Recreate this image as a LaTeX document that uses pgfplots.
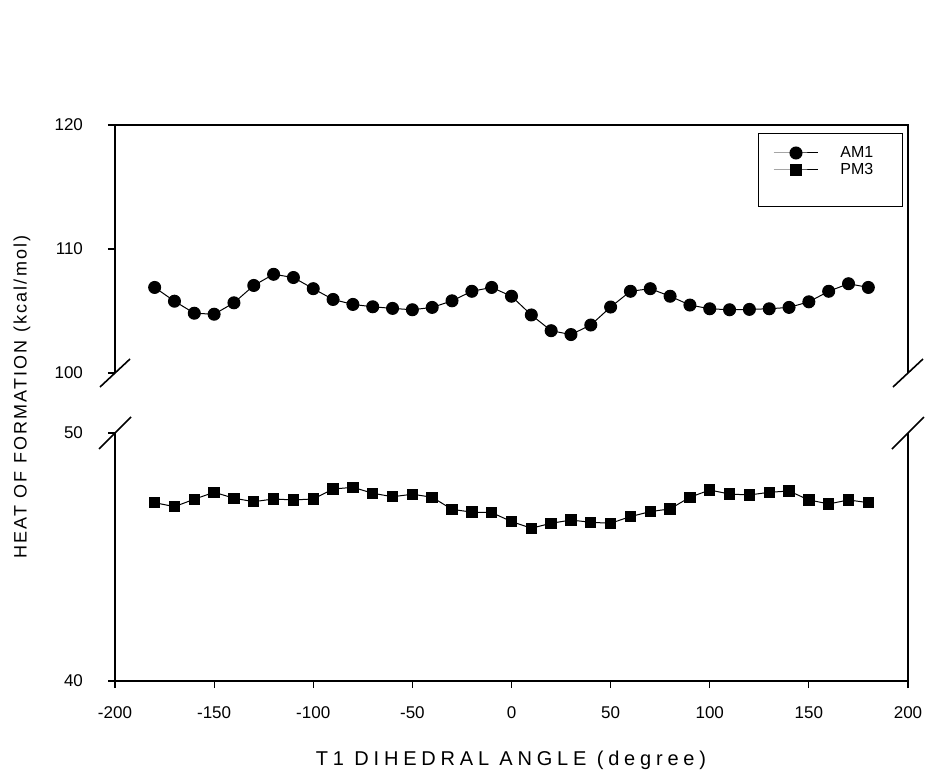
\documentclass[border=0pt]{standalone}
\usepackage{fontspec}
\setmainfont{Liberation Sans}
\newfontfamily\ylabfont[LetterSpace=12]{Liberation Sans}
\newfontfamily\xlabfont[LetterSpace=24]{Liberation Sans}
\usepackage{pgfplots}
\usepackage{pgfplotstable}
\pgfplotsset{compat=1.18}

\pgfplotstableread{
x y
-180 106.90
-170 105.79
-160 104.82
-150 104.74
-140 105.66
-130 107.06
-120 107.96
-110 107.70
-100 106.80
-90 105.93
-80 105.53
-70 105.34
-60 105.21
-50 105.10
-40 105.29
-30 105.82
-20 106.59
-10 106.90
0 106.19
10 104.68
20 103.41
30 103.10
40 103.87
50 105.32
60 106.59
70 106.80
80 106.19
90 105.48
100 105.18
110 105.10
120 105.13
130 105.18
140 105.29
150 105.74
160 106.59
170 107.20
180 106.90
}\amone

\pgfplotstableread{
x y
-180 47.19
-170 47.03
-160 47.33
-150 47.61
-140 47.37
-130 47.23
-120 47.34
-110 47.30
-100 47.34
-90 47.74
-80 47.81
-70 47.57
-60 47.43
-50 47.53
-40 47.41
-30 46.92
-20 46.81
-10 46.79
0 46.43
10 46.16
20 46.36
30 46.49
40 46.40
50 46.36
60 46.63
70 46.83
80 46.94
90 47.41
100 47.70
110 47.54
120 47.50
130 47.61
140 47.66
150 47.30
160 47.14
170 47.30
180 47.19
}\pmthree

\pgfplotsset{
  brk/.style={
    scale only axis, width=396.5pt, height=124pt,
    xmin=-200, xmax=200,
    axis line style={draw=none},
    tick align=outside, major tick length=3.5pt,
    every tick/.style={black, line width=0.6pt},
    ytick pos=left, xtick pos=bottom,
    clip=false,
    tick label style={font=\fontsize{8.5}{10}\selectfont},
    yticklabel style={xshift=-9pt},
    xticklabel style={yshift=-6pt},
    /pgf/number format/assume math mode=true,
    legend image code/.code={
      \draw[mark repeat=2,mark phase=2,##1] plot coordinates {(0pt,0pt) (11pt,0pt) (22pt,0pt)};
    },
  },
  am/.style={black, line width=0.5pt, mark=*, mark size=3pt, mark options={fill=black}},
  pm/.style={black, line width=0.5pt, mark=square*, mark size=2.6pt, mark options={fill=black}},
}

\begin{document}
\begin{tikzpicture}
\path[use as bounding box] (0,0) rectangle (464pt,-387.5pt);
\begin{axis}[brk,
  at={(57.5pt,-62.5pt)}, anchor=north west,
  ymin=100, ymax=120, ytick={100,110,120}, xtick=\empty,
  legend style={at={(1,1)}, anchor=north east, xshift=-2.5pt, yshift=-4pt,
    draw=black, line width=0.5pt, inner xsep=7.5pt, inner ysep=5.5pt,
    font=\fontsize{8}{9.5}\selectfont, legend cell align=left,
    nodes={text height=6pt, text depth=1pt, inner ysep=0.75pt}},
]
\addplot[am] table[x=x,y=y] {\amone};
\addlegendentry{\makebox[30.5pt][l]{\hspace{9pt}AM1}}
\addlegendimage{pm}
\addlegendentry{\makebox[30.5pt][l]{\hspace{9pt}PM3}}
\addlegendimage{empty legend}
\addlegendentry{}
\draw[black, line width=0.8pt] (rel axis cs:0,0) -- (rel axis cs:0,1) -- (rel axis cs:1,1) -- (rel axis cs:1,0);
\draw[black, line width=0.8pt] ([shift={(-7.5pt,-7pt)}]rel axis cs:0,0) -- ([shift={(7.5pt,7pt)}]rel axis cs:0,0);
\draw[black, line width=0.8pt] ([shift={(-7.5pt,-7pt)}]rel axis cs:1,0) -- ([shift={(7.5pt,7pt)}]rel axis cs:1,0);
\end{axis}
\begin{axis}[brk,
  at={(57.5pt,-216.5pt)}, anchor=north west,
  ymin=40, ymax=50, ytick={40,50}, xtick={-200,-150,...,200},
]
\addplot[pm] table[x=x,y=y] {\pmthree};
\draw[black, line width=0.8pt] (rel axis cs:0,1) -- (rel axis cs:0,0) -- (rel axis cs:1,0) -- (rel axis cs:1,1);
\draw[black, line width=0.8pt] ([shift={(-8pt,-8pt)}]rel axis cs:0,1) -- ([shift={(8pt,8pt)}]rel axis cs:0,1);
\draw[black, line width=0.8pt] ([shift={(-8pt,-8pt)}]rel axis cs:1,1) -- ([shift={(8pt,8pt)}]rel axis cs:1,1);
\end{axis}
\node[rotate=90, font=\ylabfont\fontsize{9}{11}\selectfont] at (11pt,-198.5pt) {HEAT OF FORMATION (kcal/mol)};
\node[font=\xlabfont\fontsize{10}{12}\selectfont] at (255.5pt,-380pt) {T1 DIHEDRAL ANGLE (degree)};
\end{tikzpicture}
\end{document}
